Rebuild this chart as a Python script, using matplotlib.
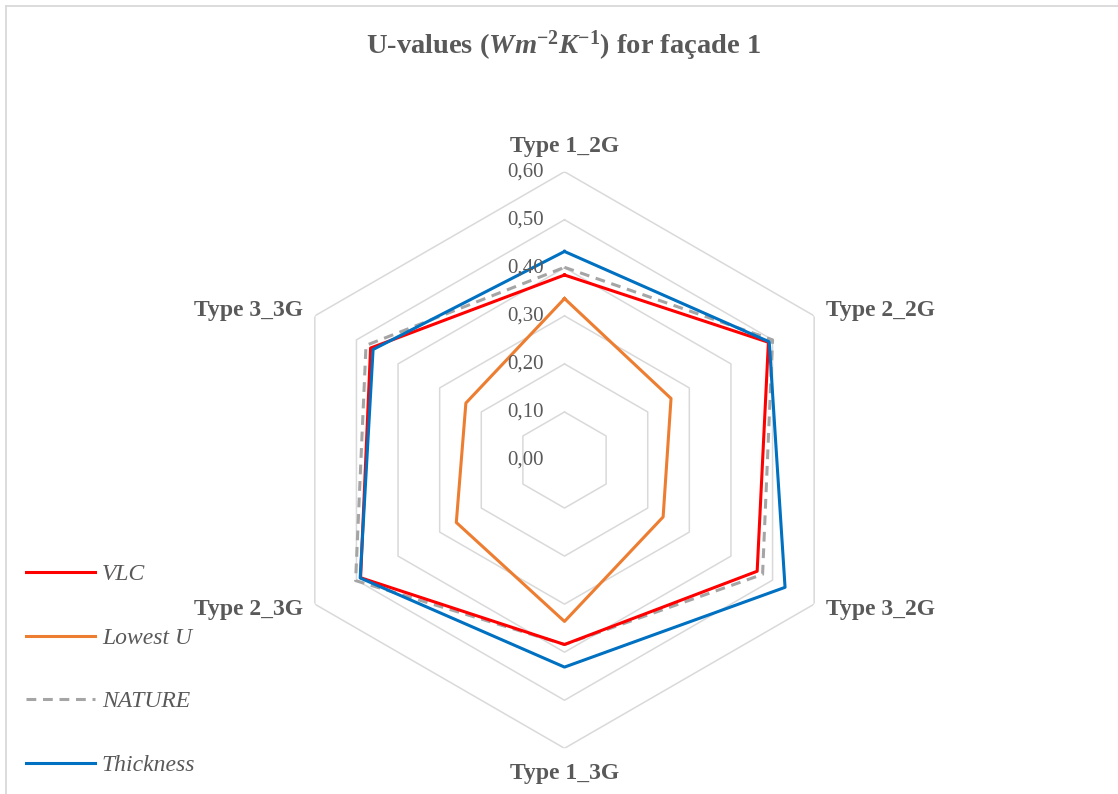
import numpy as np
import matplotlib
matplotlib.use("Agg")
import matplotlib.pyplot as plt
from matplotlib.transforms import offset_copy
from matplotlib.lines import Line2D

plt.rcParams['mathtext.fontset'] = 'custom'
plt.rcParams['mathtext.rm'] = 'Liberation Serif'
plt.rcParams['mathtext.it'] = 'Liberation Serif:italic'
plt.rcParams['mathtext.bf'] = 'Liberation Serif:bold'
plt.rcParams['mathtext.bfit'] = 'Liberation Serif:bold:italic'

categories = ["Type 1_2G", "Type 2_2G", "Type 3_2G", "Type 1_3G", "Type 2_3G", "Type 3_3G"]
vlc = [0.385, 0.490, 0.463, 0.384, 0.490, 0.466]
lowest_u = [0.336, 0.256, 0.237, 0.336, 0.260, 0.237]
nature = [0.401, 0.500, 0.476, 0.384, 0.502, 0.477]
thickness = [0.434, 0.492, 0.530, 0.431, 0.491, 0.460]
levels = [0.1, 0.2, 0.3, 0.4, 0.5, 0.6]
tick_values = [0.0, 0.1, 0.2, 0.3, 0.4, 0.5, 0.6]
tick_labels = ["0,00", "0,10", "0,20", "0,30", "0,40", "0,50", "0,60"]

W, H = 1118, 794
fig = plt.figure(figsize=(W / 100, H / 100), dpi=100)

cx, cy, R = 564.5, 460.0, 288.3
ax = fig.add_axes([(cx - R) / W, (H - cy - R) / H, 2 * R / W, 2 * R / H], projection='polar')
ax.set_theta_offset(np.pi / 2)
ax.set_theta_direction(-1)
ax.set_ylim(0, 0.6)
ax.grid(False)
ax.spines['polar'].set_visible(False)
ax.set_xticks([])
ax.set_yticks([])
ax.patch.set_alpha(0)

n = len(categories)
angles = np.linspace(0, 2 * np.pi, n, endpoint=False)
ang_c = np.concatenate([angles, angles[:1]])

def closed(v):
    return np.concatenate([v, v[:1]])

for lv in levels:
    ax.plot(ang_c, [lv] * (n + 1), color='#D9D9D9', lw=1.1, zorder=1)

txtc = '#595959'
ax.plot(ang_c, closed(nature), color='#A5A5A5', lw=2.2, ls=(0, (3.2, 2.2)), zorder=2)
ax.plot(ang_c, closed(lowest_u), color='#ED7D31', lw=2.2, zorder=3)
ax.plot(ang_c, closed(vlc), color='#FF0000', lw=2.2, zorder=4)
ax.plot(ang_c, closed(thickness), color='#0070C0', lw=2.2, zorder=5)

for v, t in zip(tick_values, tick_labels):
    tr = offset_copy(ax.transData, fig=fig, x=-21, y=0, units='dots')
    ax.text(0, v, t, transform=tr, ha='right', va='center', fontsize=15,
            family='Liberation Serif', color=txtc, zorder=6)

lab_off = [(0, 25, 'center'), (12, 5, 'left'), (12, -5, 'left'),
           (0, -25, 'center'), (-12, -5, 'right'), (-12, 5, 'right')]
for a, c, (dx, dy, ha) in zip(angles, categories, lab_off):
    tr = offset_copy(ax.transData, fig=fig, x=dx, y=dy, units='dots')
    ax.text(a, 0.6, c, transform=tr, ha=ha, va='center', fontsize=17,
            family='Liberation Serif', fontweight='bold', color=txtc)

fig.text(0.504, 1 - 46 / H,
         r"U-values ($\mathbfit{Wm}^{\mathbf{-2}}\mathbfit{K}^{\mathbf{-1}}$) for façade 1",
         ha='center', va='center', fontsize=20.5, family='Liberation Serif',
         fontweight='bold', color=txtc)

handles = [Line2D([], [], color='#FF0000', lw=2.2),
           Line2D([], [], color='#ED7D31', lw=2.2),
           Line2D([], [], color='#A5A5A5', lw=2.2, ls=(0, (3.2, 2.2))),
           Line2D([], [], color='#0070C0', lw=2.2)]
leg = fig.legend(handles, ["VLC", "Lowest U", "NATURE", "Thickness"],
                 loc='upper left', bbox_to_anchor=(14 / W, 1 - 552 / H),
                 frameon=False, handlelength=2.92, handletextpad=0.3,
                 labelspacing=1.78, borderpad=0,
                 prop={'family': 'Liberation Serif', 'style': 'italic', 'size': 17})
for t in leg.get_texts():
    t.set_color(txtc)

fig.add_artist(Line2D([6 / W, 1], [1 - 6 / H, 1 - 6 / H], transform=fig.transFigure, color='#D9D9D9', lw=1.3))
fig.add_artist(Line2D([6 / W, 6 / W], [0, 1 - 6 / H], transform=fig.transFigure, color='#D9D9D9', lw=1.3))

fig.savefig('out.png', dpi=100)
